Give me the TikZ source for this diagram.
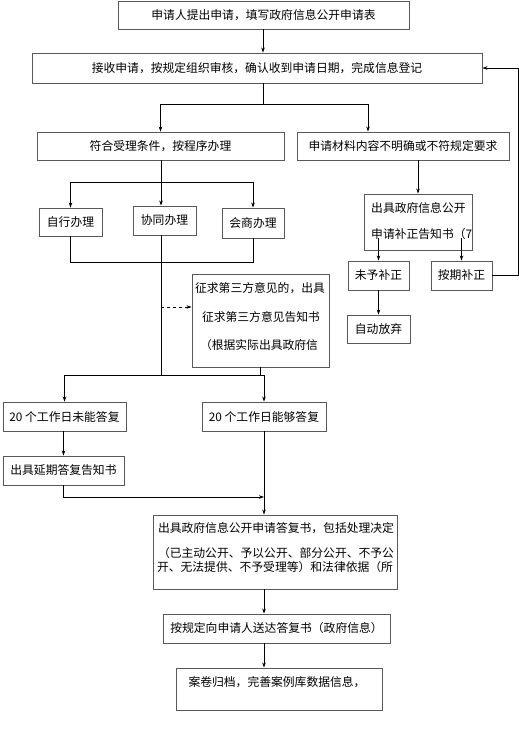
\documentclass[tikz,border=0pt]{standalone}
\usepackage{fontspec}
\setmainfont{Noto Sans CJK SC}
\usetikzlibrary{arrows.meta,calc}
\tikzset{
  box/.style={draw=black!65, line width=0.9pt, inner sep=0pt, font=\fontsize{11.8}{14}\selectfont},
  txt/.style={inner sep=0pt, font=\fontsize{11.8}{14}\selectfont},
  ln/.style={draw=black, line width=0.7pt},
  arr/.style={ln, -{Stealth[length=5pt,width=3.5pt]}}
}
\begin{document}
\begin{tikzpicture}[x=1pt,y=-1pt]
\useasboundingbox[fill=white] (0,0) rectangle (519,731);
% boxes
\node[box, minimum width=291pt, minimum height=28pt] (b1) at (263.5,15) {申请人提出申请，填写政府信息公开申请表};
\node[box, minimum width=450pt, minimum height=30pt] (b2) at (257,68) {接收申请，按规定组织审核，确认收到申请日期，完成信息登记};
\node[box, minimum width=247pt, minimum height=28pt] (b3) at (160.5,146) {符合受理条件，按程序办理};
\node[box, minimum width=212pt, minimum height=28pt] (b4) at (403,146) {申请材料内容不明确或不符规定要求};
\node[box, minimum width=108pt, minimum height=56pt] (b5) at (418,222) {};
\node[txt, anchor=west] (t5a) at (371,208) {出具政府信息公开};
\node[txt, anchor=west] (t5b) at (371,234) {申请补正告知书（7};
\node[box, minimum width=63pt, minimum height=28pt] (s1) at (70.5,222) {自行办理};
\node[box, minimum width=63pt, minimum height=29pt] (s2) at (164.5,220.5) {协同办理};
\node[box, minimum width=62pt, minimum height=30pt] (s3) at (253,223) {会商办理};
\node[box, minimum width=61pt, minimum height=29pt] (b6) at (378.5,275.5) {未予补正};
\node[box, minimum width=61pt, minimum height=29pt] (b7) at (461.5,275.5) {按期补正};
\node[box, minimum width=63pt, minimum height=28pt] (b8) at (378.5,329) {自动放弃};
\node[box, minimum width=137pt, minimum height=93pt] (b9) at (260.5,320.5) {};
\node[txt] (t9a) at (260,288) {征求第三方意见的，出具};
\node[txt] (t9b) at (261,317) {征求第三方意见告知书};
\node[txt] (t9c) at (259,345) {（根据实际出具政府信};
\node[box, minimum width=123pt, minimum height=29pt] (b10) at (64.5,416.5) {20 个工作日未能答复};
\node[box, minimum width=124pt, minimum height=29pt] (b11) at (264,416.5) {20 个工作日能够答复};
\node[box, minimum width=121pt, minimum height=29pt] (b12) at (63.5,470.5) {出具延期答复告知书};
\node[box, minimum width=244pt, minimum height=74pt] (b13) at (275,552) {};
\node[txt] (t13a) at (276,528) {出具政府信息公开申请答复书，包括处理决定};
\node[txt] (t13b) at (276,553) {（已主动公开、予以公开、部分公开、不予公};
\node[txt] (t13c) at (275,567) {开、无法提供、不予受理等）和法律依据（所};
\node[box, minimum width=227pt, minimum height=29pt] (b14) at (276.5,628.5) {按规定向申请人送达答复书（政府信息）};
\node[box, minimum width=206pt, minimum height=42pt] (b15) at (279,689) {};
\node[txt] (t15) at (277,682) {案卷归档，完善案例库数据信息，};
% junction coordinates
\coordinate (j1) at (263,104);
\coordinate (j2) at (161,182);
\coordinate (j3) at (161,375);
\coordinate (j4) at (161,307);
\coordinate (j5) at (264,497);
\coordinate (c5) at (0,238);
% connectors
\draw[arr] (b1.south -| j1) -- (b2.north -| j1);
\draw[ln] (b2.south -| j1) -- (j1);
\draw[arr] (j1) -| (b3.north);
\draw[arr] (j1) -| ([xshift=-35pt]b4.north);
\draw[ln] (b3.south -| j2) -- (j2);
\draw[arr] (j2) -- (s2.north -| j2);
\draw[arr] (j2) -| (s1.north);
\draw[arr] (j2) -| (s3.north);
\draw[ln] (s1.south) -- ++(0,26) -| (s3.south);
\draw[ln] (s2.south -| j3) -- (j3);
\draw[arr, dashed] (j4) -- (j4 -| b9.west);
\draw[arr] (j3) -| (b10.north);
\draw[arr] (j3) -| (b11.north);
\draw[ln] (b9.south) -- (b9.south |- j3);
\draw[arr] (b5.north |- b4.south) -- (b5.north);
\draw[arr] (b6.north |- c5) -- (b6.north);
\draw[arr] (b7.north |- c5) -- (b7.north);
\draw[arr] (b6.south) -- (b8.north);
\draw[arr] (b7.east) -- ++(26,0) |- (b2.east);
\draw[arr] (b12.north |- b10.south) -- (b12.north);
\draw[arr] (b12.south) |- (j5);
\draw[arr] (b11.south) -- (b11.south |- b13.north);
\draw[arr] (b11.south |- b13.south) -- (b11.south |- b14.north);
\draw[arr] (b11.south |- b14.south) -- (b11.south |- b15.north);
\end{tikzpicture}
\end{document}
